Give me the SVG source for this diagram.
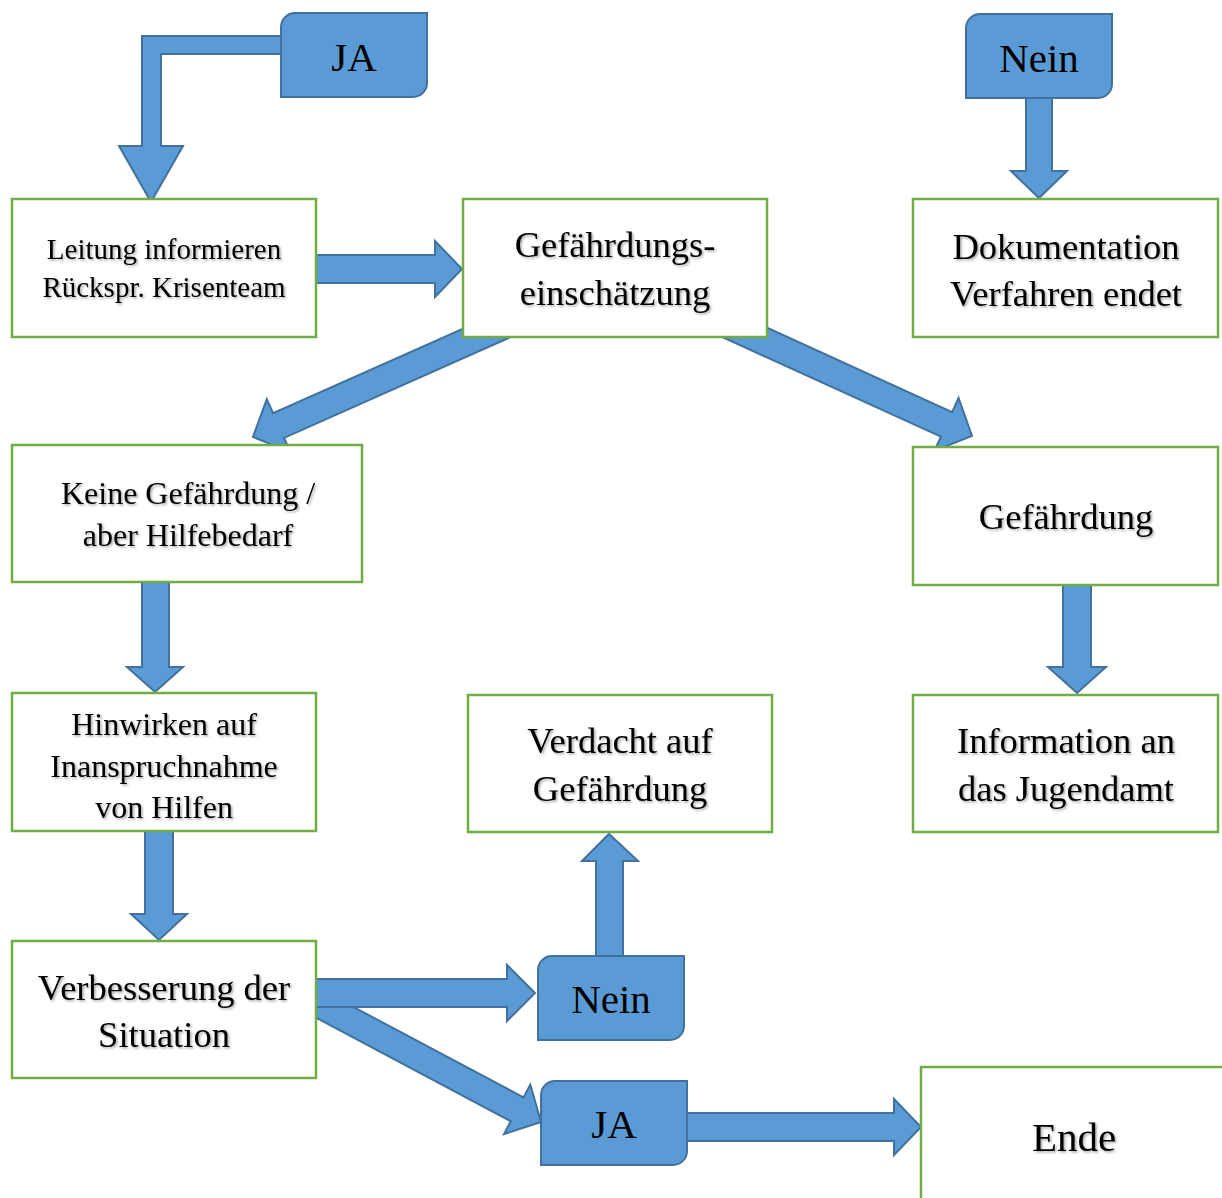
<svg xmlns="http://www.w3.org/2000/svg" width="1222" height="1198" viewBox="0 0 1222 1198">
<defs>
<filter id="sh" x="-10%" y="-20%" width="120%" height="140%">
<feDropShadow dx="1.5" dy="1.5" stdDeviation="1" flood-color="#000" flood-opacity="0.35"/>
</filter>
<style>
.box{fill:#fff;stroke:#70AD47;stroke-width:2.5}
.blue{fill:#5B9BD5;stroke:#41719C;stroke-width:2}
.arr{fill:#5B9BD5;stroke:#41719C;stroke-width:2;stroke-linejoin:miter}
.t{font-family:"Liberation Serif","Times New Roman",serif;fill:#000;text-anchor:middle}
.ts{filter:url(#sh)}
.s29{font-size:29px}
.s32{font-size:32px}
.s36{font-size:36.5px}
.s41{font-size:41px}
</style>
</defs>
<rect width="1222" height="1198" fill="#fff"/>
<g id="connectors">
<polygon class="arr" points="290,36 142,36 142,146 119,146 151,202 183,146 161,146 161,54 290,54"/>
<polygon class="arr" points="1026,90 1026,171 1011,171 1039,198 1067,171 1052,171 1052,90"/>
<polygon class="arr" points="310,255 435,255 435,241 462,269 435,297 435,283 310,283"/>
<polygon class="arr" transform="translate(253,437) rotate(156)" points="-300,-13.5 -28,-13.5 -28,-29 0,0 -28,29 -28,13.5 -300,13.5"/>
<polygon class="arr" transform="translate(972,436) rotate(24.5)" points="-290,-13.5 -28,-13.5 -28,-29 0,0 -28,29 -28,13.5 -290,13.5"/>
<polygon class="arr" points="142,575 142,667 127,667 155,692 183,667 169,667 169,575"/>
<polygon class="arr" points="145,825 145,914 131,914 159,940 187,914 173,914 173,825"/>
<polygon class="arr" points="1063,580 1063,667 1048,667 1077,693 1106,667 1091,667 1091,580"/>
<polygon class="arr" points="596,962 596,861 582,861 609,834 638,861 623,861 623,962"/>
<polygon class="arr" transform="translate(541,1122) rotate(28)" points="-280,-13.5 -27,-13.5 -27,-28 0,0 -27,28 -27,13.5 -280,13.5"/>
<polygon class="arr" points="310,979 507,979 507,965 535,993 507,1021 507,1007 310,1007"/>
<polygon class="arr" points="680,1113 894,1113 894,1099 921,1127 894,1155 894,1141 680,1141"/>
</g>
<g id="ja-top">
<path class="blue" d="M295,13 H427 V83 A14,14 0 0 1 413,97 H281 V27 A14,14 0 0 1 295,13 Z"/>
<text class="t s41" x="354" y="71">JA</text>
</g>
<g id="nein-top">
<path class="blue" d="M980,14 H1112 V84 A14,14 0 0 1 1098,98 H966 V28 A14,14 0 0 1 980,14 Z"/>
<text class="t s41" x="1039" y="72">Nein</text>
</g>
<g id="leitung">
<rect class="box" x="12" y="199" width="304" height="138"/>
<text class="t ts s29" x="164" y="259">Leitung informieren</text>
<text class="t ts s29" x="164" y="297">Rückspr. Krisenteam</text>
</g>
<g id="einschaetzung">
<rect class="box" x="463" y="199" width="304" height="138"/>
<text class="t ts s36" x="615" y="257">Gefährdungs-</text>
<text class="t ts s36" x="615" y="305">einschätzung</text>
</g>
<g id="dokumentation">
<rect class="box" x="913" y="199" width="305" height="138"/>
<text class="t ts s36" x="1066" y="259">Dokumentation</text>
<text class="t ts s36" x="1066" y="306">Verfahren endet</text>
</g>
<g id="keine">
<rect class="box" x="12" y="445" width="350" height="137"/>
<text class="t ts s32" x="188" y="504">Keine Gefährdung /</text>
<text class="t ts s32" x="188" y="546">aber Hilfebedarf</text>
</g>
<g id="gefaehrdung">
<rect class="box" x="913" y="447" width="305" height="138"/>
<text class="t ts s36" x="1066" y="529">Gefährdung</text>
</g>
<g id="hinwirken">
<rect class="box" x="12" y="693" width="304" height="138"/>
<text class="t ts s32" x="164" y="735">Hinwirken auf</text>
<text class="t ts s32" x="164" y="777">Inanspruchnahme</text>
<text class="t ts s32" x="164" y="818">von Hilfen</text>
</g>
<g id="verdacht">
<rect class="box" x="468" y="695" width="304" height="137"/>
<text class="t ts s36" x="620" y="753">Verdacht auf</text>
<text class="t ts s36" x="620" y="801">Gefährdung</text>
</g>
<g id="information">
<rect class="box" x="913" y="695" width="305" height="137"/>
<text class="t ts s36" x="1066" y="753">Information an</text>
<text class="t ts s36" x="1066" y="801">das Jugendamt</text>
</g>
<g id="verbesserung">
<rect class="box" x="12" y="941" width="304" height="137"/>
<text class="t ts s36" x="164" y="1000">Verbesserung der</text>
<text class="t ts s36" x="164" y="1047">Situation</text>
</g>
<g id="nein-bottom">
<path class="blue" d="M552,956 H684 V1026 A14,14 0 0 1 670,1040 H538 V970 A14,14 0 0 1 552,956 Z"/>
<text class="t s41" x="611" y="1013">Nein</text>
</g>
<g id="ja-bottom">
<path class="blue" d="M555,1081 H687 V1151 A14,14 0 0 1 673,1165 H541 V1095 A14,14 0 0 1 555,1081 Z"/>
<text class="t s41" x="614" y="1138">JA</text>
</g>
<g id="ende">
<rect class="box" x="921" y="1067" width="320" height="150"/>
<text class="t ts s41" x="1074" y="1151">Ende</text>
</g>
</svg>
